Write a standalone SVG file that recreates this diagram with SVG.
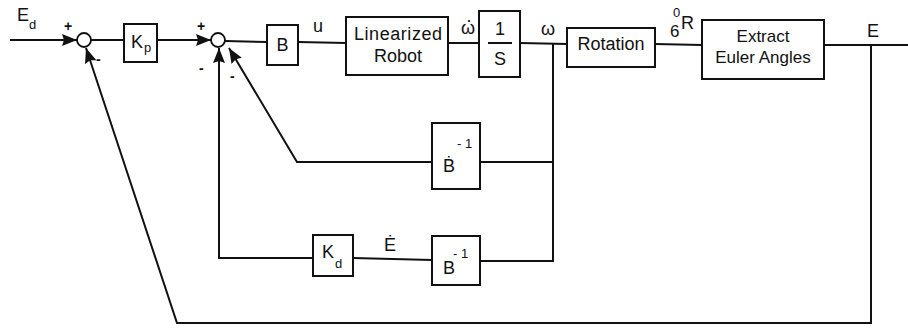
<svg xmlns="http://www.w3.org/2000/svg" width="908" height="331" viewBox="0 0 908 331">
<style>
.ln{fill:none;stroke:#111;stroke-width:2}
.bx{fill:#fff;stroke:#111;stroke-width:2}
.sm{fill:#fff;stroke:#111;stroke-width:1.8}
text{font-family:"Liberation Sans","DejaVu Sans",Arial,sans-serif;fill:#111}
.t{font-size:18px}
.s{font-size:17px}
.sub{font-size:13px}
.sg{font-size:14px;font-weight:bold}
</style>
<defs>
<marker id="ah" markerUnits="userSpaceOnUse" markerWidth="16" markerHeight="14" refX="15" refY="6" orient="auto">
<path d="M0,0 L15,6 L0,12 L2,6 Z" fill="#111"/>
</marker>
</defs>
<rect width="908" height="331" fill="#fff"/>
<g id="connectors">
<line class="ln" x1="10" y1="40" x2="77" y2="40" marker-end="url(#ah)"/>
<line class="ln" x1="91" y1="40" x2="124" y2="40"/>
<line class="ln" x1="157" y1="40" x2="211" y2="40" marker-end="url(#ah)"/>
<line class="ln" x1="225" y1="41" x2="267" y2="42"/>
<line class="ln" x1="298" y1="42" x2="346" y2="43"/>
<line class="ln" x1="448" y1="43" x2="479" y2="43"/>
<line class="ln" x1="520" y1="43" x2="567" y2="44"/>
<line class="ln" x1="655" y1="44" x2="702" y2="45"/>
<line class="ln" x1="824" y1="45" x2="908" y2="45"/>
<polyline class="ln" points="553,43 553,261 480,261"/>
<line class="ln" x1="553" y1="162" x2="480" y2="162"/>
<polyline class="ln" points="432,162 297,162 229,48" marker-end="url(#ah)"/>
<line class="ln" x1="432" y1="260" x2="353" y2="258"/>
<polyline class="ln" points="313,258 219,258 219,48" marker-end="url(#ah)"/>
<polyline class="ln" points="871,45 871,323 177,323 86,48" marker-end="url(#ah)"/>
</g>
<g id="input-label">
<text class="t" x="17" y="21">E</text><text class="sub" x="29" y="29">d</text>
</g>
<g id="sum1">
<circle class="sm" cx="84" cy="40" r="7"/>
<text class="sg" x="64" y="31">+</text>
<text class="sg" x="96" y="64">-</text>
</g>
<g id="kp">
<rect class="bx" x="124" y="24" width="33" height="38"/>
<text class="t" x="131" y="48">K</text><text class="sub" x="144" y="52">p</text>
</g>
<g id="sum2">
<circle class="sm" cx="218" cy="40" r="7"/>
<text class="sg" x="197" y="31">+</text>
<text class="sg" x="199" y="73">-</text>
<text class="sg" x="230" y="81">-</text>
</g>
<g id="b">
<rect class="bx" x="267" y="25" width="31" height="40"/>
<text class="t" x="282.5" y="51" text-anchor="middle">B</text>
</g>
<text class="t" x="318" y="32" text-anchor="middle">u</text>
<g id="robot">
<rect class="bx" x="346" y="17" width="102" height="58"/>
<text class="t" x="398" y="40" text-anchor="middle" textLength="88">Linearized</text>
<text class="t" x="398" y="62" text-anchor="middle">Robot</text>
</g>
<text class="t" x="461" y="34">ω<tspan dx="-9" dy="-8">·</tspan></text>
<g id="integrator">
<rect class="bx" x="479" y="11" width="41" height="66"/>
<text class="t" x="500" y="35" text-anchor="middle">1</text>
<line class="ln" x1="488" y1="43" x2="512" y2="43"/>
<text class="t" x="500" y="65" text-anchor="middle">S</text>
</g>
<text class="t" x="548" y="35" text-anchor="middle">ω</text>
<g id="rotation">
<rect class="bx" x="567" y="28" width="88" height="39"/>
<text class="t" x="611" y="50" text-anchor="middle">Rotation</text>
</g>
<g id="r-label">
<text class="s" x="670" y="37">6</text>
<text class="sub" x="673" y="17">0</text>
<text class="t" x="681" y="29">R</text>
</g>
<g id="euler">
<rect class="bx" x="702" y="20" width="122" height="59"/>
<text class="s" x="763" y="42" text-anchor="middle">Extract</text>
<text class="s" x="763" y="63" text-anchor="middle">Euler Angles</text>
</g>
<text class="t" x="873" y="37" text-anchor="middle">E</text>
<g id="bdot-inv">
<rect class="bx" x="432" y="123" width="48" height="66"/>
<text class="t" x="443" y="172">Ḃ</text>
<text class="sub" x="457" y="148">- 1</text>
</g>
<g id="kd">
<rect class="bx" x="313" y="235" width="40" height="41"/>
<text class="t" x="322" y="258">K</text><text class="sub" x="335" y="268">d</text>
</g>
<text class="t" x="390" y="251" text-anchor="middle">Ė</text>
<g id="b-inv">
<rect class="bx" x="432" y="236" width="48" height="49"/>
<text class="t" x="443" y="274">B</text>
<text class="sub" x="453" y="258">- 1</text>
</g>
</svg>
